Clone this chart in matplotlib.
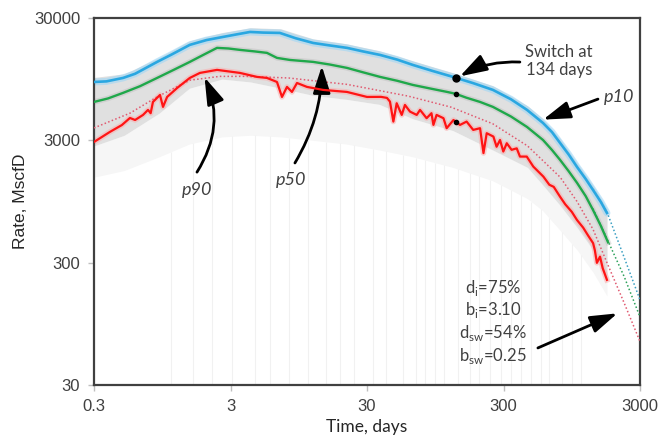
import numpy as np
import matplotlib
matplotlib.use("Agg")
import matplotlib.pyplot as plt

# ---------------- data ----------------
p10_t = [0.3, 0.37, 0.49, 0.6, 0.87, 1.1, 1.51, 2.0, 2.64, 3.3, 4.17, 5.2, 6.9, 9.0, 12.1, 16,
         21.4, 28, 37.4, 50, 65, 90, 128, 180, 251, 340, 446, 584, 680, 778, 900, 1036, 1200,
         1357, 1550, 1718]
p10_q = [9000, 9100, 9710, 10500, 13130, 15000, 18090, 19800, 21000, 22000, 23070, 22800, 22650,
         20500, 18750, 17900, 17100, 16000, 14970, 13700, 12400, 11100, 9900, 8800, 7750, 6500,
         5320, 4160, 3500, 2860, 2300, 1820, 1450, 1180, 940, 764]

p50_t = [0.3, 0.38, 0.49, 0.65, 0.87, 1.15, 1.51, 1.9, 2.39, 2.9, 3.52, 4.5, 5.55, 6.57, 8.18,
         12.1, 16, 21.4, 28, 37.4, 50, 65, 90, 116, 134, 160, 202, 251, 340, 446, 584, 680, 778,
         900, 1036, 1200, 1357, 1550, 1750]
p50_q = [6180, 6600, 7330, 8300, 9710, 11300, 13130, 15000, 17100, 16900, 16460, 16000, 15560,
         14160, 13620, 13130, 12500, 11730, 10800, 9900, 9200, 8510, 7900, 7460, 7200, 6700, 6180,
         5630, 4700, 3860, 3020, 2500, 2080, 1680, 1350, 1050, 810, 600, 440]

p90_t = [0.3, 0.393, 0.48, 0.55, 0.6, 0.686, 0.746, 0.78, 0.811, 0.913, 0.961, 1.03, 1.22, 1.51,
         1.79, 2.39, 3.52, 4.69, 5.55, 6.57, 7.15, 7.78, 8.46, 9.21, 10.9, 14.3, 21.4, 30, 38, 42,
         44.2, 46.8, 49.5, 53.9, 56.9, 62, 69.4, 73.4, 82, 89, 92, 97, 109, 115, 129, 144, 161,
         180, 202, 214, 226, 253, 267, 283, 299, 317, 344, 375, 396, 444, 496, 588, 650, 700,
         778, 850, 950, 1036, 1150, 1250, 1360, 1400, 1450, 1528, 1600, 1718]
p90_q = [2910, 3520, 4000, 4570, 4400, 4840, 5320, 5000, 6180, 7050, 5630, 6790, 8040, 9710,
         10670, 11300, 10670, 9900, 9710, 9000, 6790, 8200, 7460, 8830, 8200, 7750, 7460, 6790,
         6800, 6670, 6220, 4270, 6030, 4840, 5840, 5150, 4840, 5320, 4550, 5000, 4010, 4840, 4550,
         3770, 4400, 4010, 4270, 3650, 3770, 2360, 3430, 3220, 2660, 3020, 2430, 2840, 2510, 2580,
         2210, 2210, 1830, 1515, 1300, 1250, 1040, 900, 780, 670, 580, 500, 433, 380, 299, 336,
         270, 217]

# fitted (dotted) forecasts
fit90_t = [0.3, 0.55, 0.87, 1.51, 2.5, 4, 8, 21.4, 60, 124, 250, 450, 780, 1036, 1360, 1718, 2300, 3000]
fit90_q = [3790, 5000, 6800, 9300, 10000, 10000, 9700, 8600, 6900, 5600, 4100, 2700, 1500, 950, 560, 300, 140, 68]
fit50_t = [1357, 1750, 2300, 3000]
fit50_q = [830, 450, 230, 108]
fit10_t = [1357, 1718, 2300, 3000]
fit10_q = [1200, 780, 330, 149]

# gray cloud of individual wells
cloud_t = [0.3, 0.5, 0.9, 1.5, 2.6, 4.2, 7, 12, 21, 37, 65, 128, 250, 450, 580, 780, 1040, 1360, 1720]
cloud_hi = [9800, 10500, 14200, 19500, 22800, 25000, 24500, 20300, 18500, 16200, 13400, 10700,
            8400, 5750, 4500, 3100, 1950, 1280, 830]
cloud_lo = [2700, 3300, 5000, 8000, 9500, 9000, 8000, 7000, 6500, 5900, 4500, 3600, 2500, 1800,
            1300, 880, 580, 380, 210]
faint_lo = [1500, 1700, 2200, 2800, 3200, 3300, 3200, 3000, 2800, 2500, 2200, 1800, 1400, 1000,
            800, 550, 380, 250, 160]
streak_t = [1.1, 1.6, 2.2, 3.1, 4.5, 5.8, 8, 11, 15, 19, 24, 33, 41, 55, 68, 80, 95, 110, 140,
            170, 200, 240, 290, 340, 400, 480, 560, 650, 800, 950, 1100]

switch_day = 134
x_ticks = [0.3, 3, 30, 300, 3000]
x_tick_labels = ["0.3", "3", "30", "300", "3000"]
y_ticks = [30, 300, 3000, 30000]
y_tick_labels = ["30", "300", "3000", "30000"]
param_lines = [r"d$_\mathregular{i}$=75%", r"b$_\mathregular{i}$=3.10",
               r"d$_\mathregular{sw}$=54%", r"b$_\mathregular{sw}$=0.25"]

# ---------------- figure ----------------
fig = plt.figure(figsize=(6.62, 4.45), dpi=100)
ax = fig.add_axes([94 / 662, 60 / 445, 546 / 662, 367 / 445])
ax.set_xscale("log")
ax.set_yscale("log")
ax.set_xlim(0.3, 3000)
ax.set_ylim(30, 30000)

def logi(x, xp, fp):
    return 10 ** np.interp(np.log10(x), np.log10(xp), np.log10(fp))

# faint cloud and streaks
ax.fill_between(cloud_t, faint_lo, cloud_lo, color="#f6f6f6", lw=0, zorder=1)
ax.fill_between(cloud_t, cloud_lo, cloud_hi, color="#e0e0e0", lw=0, zorder=1)
ax.vlines(streak_t, 30, logi(np.array(streak_t), cloud_t, faint_lo), color="#f1f1f1", lw=0.8, zorder=1)

# halos
ax.plot(p10_t, p10_q, color="#9fd6f5", lw=5, alpha=0.6, zorder=2, solid_capstyle="round")
ax.plot(p50_t, p50_q, color="#b9b9b9", lw=4, alpha=0.4, zorder=2)
ax.plot(p90_t, p90_q, color="#f6b3b3", lw=4, alpha=0.6, zorder=2)

# dotted fits
ax.plot(fit90_t, fit90_q, color="#e05a70", lw=1.1, ls=(0, (1, 1.5)), zorder=3)
ax.plot(fit50_t, fit50_q, color="#2ca05a", lw=1.1, ls=(0, (1, 1.5)), zorder=3)
ax.plot(fit10_t, fit10_q, color="#3a9fc2", lw=1.1, ls=(0, (1, 1.5)), zorder=3)

# percentile curves
ax.plot(p10_t, p10_q, color="#2aa7e1", lw=1.9, zorder=4)
ax.plot(p50_t, p50_q, color="#1fa84a", lw=1.7, zorder=4)
ax.plot(p90_t, p90_q, color="#ff1414", lw=1.6, zorder=4)

# switch dots
ax.plot([switch_day], [logi(switch_day, p10_t, p10_q)], "o", color="black", ms=5, zorder=5)
ax.plot([switch_day], [logi(switch_day, p50_t, p50_q)], "o", color="black", ms=3, zorder=5)
ax.plot([switch_day], [logi(switch_day, p90_t, p90_q)], "o", color="black", ms=3, zorder=5)

# axes styling
for s in ax.spines.values():
    s.set_color("#404040")
    s.set_linewidth(1.6)
ax.set_xticks(x_ticks)
ax.set_xticklabels(x_tick_labels)
ax.set_yticks(y_ticks)
ax.set_yticklabels(y_tick_labels)
ax.minorticks_off()
ax.tick_params(axis="both", length=4, width=1, color="#bfbfbf", pad=6,
               labelsize=12, labelcolor="#404040")
for lab in ax.get_xticklabels() + ax.get_yticklabels():
    lab.set_family("Liberation Sans")

ax.set_xlabel("Time, days", fontsize=12.5, family="Lato", color="#262626", labelpad=4)
ax.set_ylabel("Rate, MscfD", fontsize=12.5, family="Liberation Sans", color="#262626", labelpad=4)

# annotations
arrow = dict(arrowstyle="-|>,head_length=0.75,head_width=0.24", mutation_scale=22, lw=2,
             color="black", shrinkA=0, shrinkB=2)
txt = dict(family="Lato", color="#404040", fontsize=12)

ax.text(0.852, 0.883, "Switch at\n134 days", transform=ax.transAxes, ha="center", va="center",
        linespacing=1.15, **txt)
ax.annotate("", xy=(switch_day * 1.03, logi(switch_day, p10_t, p10_q)), xytext=(0.780, 0.880),
            textcoords="axes fraction", arrowprops=dict(arrow, connectionstyle="arc3,rad=0.15"))

ax.text(0.9615, 0.785, "p10", transform=ax.transAxes, ha="center", va="center",
        style="italic", family="Lato", color="#404040", fontsize=13)
ax.annotate("", xy=(560, 4350), xytext=(0.923, 0.779), textcoords="axes fraction",
            arrowprops=arrow)

ax.text(0.1886, 0.531, "p90", transform=ax.transAxes, ha="center", va="center",
        style="italic", family="Lato", color="#404040", fontsize=13)
ax.annotate("", xy=(1.9, 10300), xytext=(0.1886, 0.580), textcoords="axes fraction",
            arrowprops=dict(arrow, connectionstyle="arc3,rad=0.27"))

ax.text(0.361, 0.5586, "p50", transform=ax.transAxes, ha="center", va="center",
        style="italic", family="Lato", color="#404040", fontsize=13)
ax.annotate("", xy=(14, 12800), xytext=(0.368, 0.605), textcoords="axes fraction",
            arrowprops=dict(arrow, connectionstyle="arc3,rad=0.14"))

for line, fy in zip(param_lines, [0.264, 0.204, 0.142, 0.079]):
    ax.text(0.731, fy, line, transform=ax.transAxes, ha="center", va="center", **txt)
ax.annotate("", xy=(2139, 118), xytext=(0.813, 0.101), textcoords="axes fraction",
            arrowprops=arrow)

fig.savefig("out.png", dpi=100)
